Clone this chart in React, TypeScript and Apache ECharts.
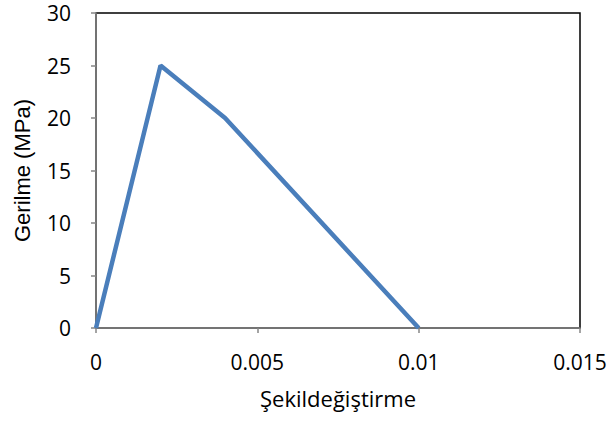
import React, { useEffect, useRef } from "react";
import * as echarts from "echarts";

const strain = [0, 0.002, 0.004, 0.01];
const stress = [0, 25, 20, 0];
const xTicks = [0, 0.005, 0.01, 0.015];
const yTicks = [0, 5, 10, 15, 20, 25, 30];

const FONT = "'Open Sans', 'Liberation Sans', sans-serif";
const FONT_Y = "'Liberation Sans', Arial, sans-serif";

export default function App() {
  const ref = useRef<HTMLDivElement>(null);
  useEffect(() => {
    if (!ref.current) return;
    const chart = echarts.init(ref.current, null, { renderer: "svg" });
    chart.setOption({
      animation: false,
      backgroundColor: "#ffffff",
      grid: {
        left: 96,
        top: 13,
        width: 484,
        height: 315,
        show: true,
        borderColor: "#000000",
        borderWidth: 1.5,
        backgroundColor: "transparent",
      },
      xAxis: {
        type: "value",
        min: xTicks[0],
        max: xTicks[xTicks.length - 1],
        interval: 0.005,
        name: "Şekildeğiştirme",
        nameLocation: "middle",
        nameGap: 59,
        nameTextStyle: { fontFamily: FONT, fontSize: 22, color: "#000" },
        axisLine: { show: true, lineStyle: { color: "#868686", width: 1.5 } },
        axisTick: { show: true, length: 5, lineStyle: { color: "#868686", width: 1.5 } },
        splitLine: { show: false },
        axisLabel: {
          fontFamily: FONT,
          fontSize: 21,
          color: "#000",
          margin: 23,
          formatter: (v: number) => String(parseFloat(v.toFixed(4))),
        },
      },
      yAxis: {
        type: "value",
        min: yTicks[0],
        max: yTicks[yTicks.length - 1],
        interval: 5,
        name: "Gerilme (MPa)",
        nameLocation: "middle",
        nameGap: 63,
        nameRotate: 90,
        nameTextStyle: { fontFamily: FONT_Y, fontSize: 22, color: "#000" },
        axisLine: { show: true, lineStyle: { color: "#868686", width: 1.5 } },
        axisTick: { show: true, length: 5, lineStyle: { color: "#868686", width: 1.5 } },
        splitLine: { show: false },
        axisLabel: { fontFamily: FONT, fontSize: 21, color: "#000", margin: 25 },
      },
      series: [
        {
          type: "line",
          data: strain.map((x, i) => [x, stress[i]]),
          showSymbol: false,
          lineStyle: { color: "#4a7ebb", width: 4.5 },
          z: 3,
        },
      ],
    });
    return () => chart.dispose();
  }, []);
  return <div ref={ref} style={{ width: 614, height: 421, position: "absolute", left: 0, top: 0 }} />;
}
